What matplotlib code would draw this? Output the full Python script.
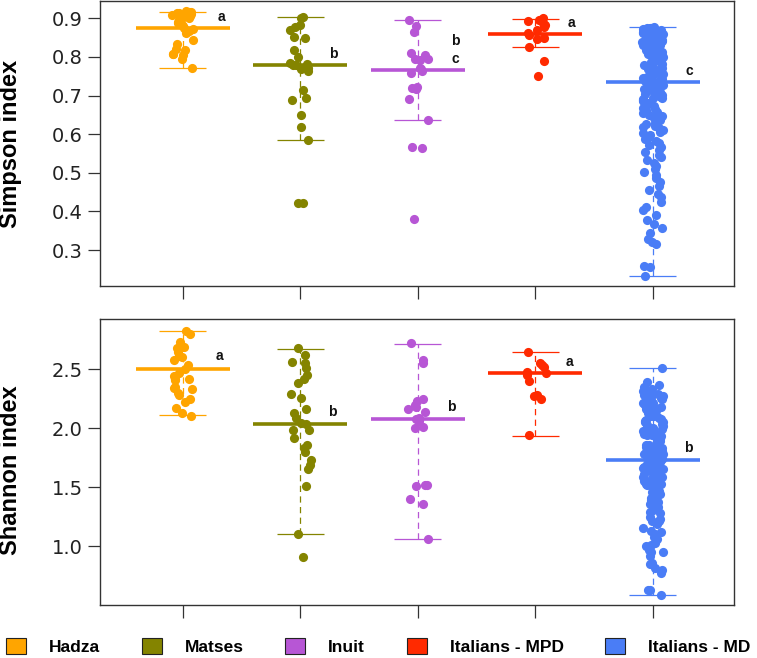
import numpy as np
import matplotlib.pyplot as plt
from matplotlib.patches import Patch

plt.rcParams['font.family'] = ['Liberation Sans', 'DejaVu Sans']

groups = ['Hadza', 'Matses', 'Inuit', 'Italians - MPD', 'Italians - MD']
colors = ['#FFA500', '#848400', '#B756D5', '#FF2A00', '#4A7DF6']

# Simpson index, per group
simpson_hadza = [0.918, 0.917, 0.916, 0.915, 0.913, 0.912, 0.908, 0.905, 0.902, 0.900,
                 0.895, 0.890, 0.887, 0.883, 0.880, 0.876, 0.872, 0.868, 0.861, 0.844,
                 0.833, 0.822, 0.818, 0.809, 0.808, 0.805, 0.796, 0.771]
simpson_matses = [0.903, 0.900, 0.883, 0.878, 0.870, 0.852, 0.850, 0.818, 0.801, 0.785,
                  0.782, 0.779, 0.778, 0.772, 0.770, 0.763, 0.714, 0.693, 0.688, 0.650,
                  0.619, 0.585, 0.423, 0.421]
simpson_inuit = [0.896, 0.880, 0.865, 0.810, 0.806, 0.796, 0.794, 0.793, 0.772, 0.768,
                 0.764, 0.759, 0.722, 0.720, 0.716, 0.690, 0.637, 0.566, 0.565, 0.380]
simpson_mpd = [0.900, 0.896, 0.893, 0.887, 0.883, 0.878, 0.870, 0.861, 0.857, 0.850,
               0.846, 0.826, 0.790, 0.751]
simpson_md = [0.878, 0.876, 0.875, 0.874, 0.872, 0.871, 0.870, 0.868, 0.867, 0.866,
              0.864, 0.863, 0.862, 0.860, 0.859, 0.858, 0.857, 0.855, 0.854, 0.853,
              0.851, 0.850, 0.849, 0.847, 0.845, 0.844, 0.843, 0.841, 0.840, 0.838,
              0.837, 0.836, 0.834, 0.832, 0.831, 0.829, 0.827, 0.826, 0.824, 0.822,
              0.820, 0.819, 0.817, 0.815, 0.813, 0.811, 0.809, 0.807, 0.805, 0.803,
              0.801, 0.799, 0.797, 0.795, 0.793, 0.790, 0.788, 0.786, 0.783, 0.781,
              0.778, 0.776, 0.773, 0.771, 0.768, 0.766, 0.763, 0.760, 0.758, 0.755,
              0.752, 0.750, 0.748, 0.746, 0.744, 0.742, 0.740, 0.738, 0.736, 0.735,
              0.733, 0.731, 0.729, 0.727, 0.725, 0.722, 0.720, 0.718, 0.716, 0.714,
              0.712, 0.709, 0.707, 0.705, 0.702, 0.700, 0.697, 0.695, 0.693, 0.690,
              0.688, 0.685, 0.682, 0.679, 0.676, 0.672, 0.669, 0.665, 0.662, 0.658,
              0.654, 0.650, 0.646, 0.642, 0.638, 0.634, 0.630, 0.626, 0.622, 0.618,
              0.615, 0.611, 0.606, 0.602, 0.597, 0.592, 0.587, 0.582, 0.578, 0.572,
              0.566, 0.560, 0.553, 0.545, 0.540, 0.533, 0.525, 0.518, 0.510, 0.502,
              0.495, 0.486, 0.476, 0.465, 0.455, 0.445, 0.438, 0.425, 0.412, 0.405,
              0.392, 0.377, 0.368, 0.358, 0.345, 0.330, 0.322, 0.316, 0.258, 0.255, 0.233]
simpson_med = [0.876, 0.778, 0.766, 0.859, 0.734]
simpson_lo = [0.771, 0.584, 0.636, 0.826, 0.233]
simpson_hi = [0.917, 0.903, 0.896, 0.898, 0.878]
simpson_letters = [['a'], ['b'], ['b', 'c'], ['a'], ['c']]

# Shannon index, per group
shannon_hadza = [2.828, 2.80, 2.734, 2.70, 2.69, 2.685, 2.65, 2.61, 2.605, 2.58,
                 2.54, 2.50, 2.47, 2.44, 2.42, 2.42, 2.41, 2.35, 2.34, 2.33,
                 2.30, 2.28, 2.25, 2.22, 2.17, 2.13, 2.10]
shannon_matses = [2.678, 2.62, 2.565, 2.55, 2.508, 2.45, 2.415, 2.38, 2.29, 2.26,
                  2.16, 2.126, 2.084, 2.042, 2.04, 1.985, 1.985, 1.914, 1.857, 1.83,
                  1.80, 1.73, 1.69, 1.65, 1.51, 1.10, 0.91]
shannon_inuit = [2.72, 2.58, 2.55, 2.25, 2.23, 2.20, 2.18, 2.16, 2.14, 2.09,
                 2.075, 2.06, 2.01, 2.00, 1.52, 1.52, 1.51, 1.40, 1.36, 1.06]
shannon_mpd = [2.644, 2.55, 2.54, 2.52, 2.48, 2.47, 2.465, 2.45, 2.40, 2.28,
               2.27, 2.25, 1.94]
shannon_md = [2.508, 2.39, 2.37, 2.35, 2.33, 2.32, 2.31, 2.30, 2.29, 2.285,
              2.28, 2.27, 2.26, 2.25, 2.245, 2.24, 2.23, 2.22, 2.215, 2.21,
              2.20, 2.19, 2.18, 2.17, 2.165, 2.16, 2.15, 2.14, 2.13, 2.12,
              2.11, 2.105, 2.10, 2.09, 2.08, 2.07, 2.06, 2.055, 2.05, 2.04,
              2.03, 2.02, 2.01, 2.00, 1.995, 1.99, 1.98, 1.97, 1.96, 1.95,
              1.945, 1.94, 1.93, 1.92, 1.91, 1.905, 1.90, 1.89, 1.88, 1.87,
              1.86, 1.855, 1.85, 1.84, 1.83, 1.82, 1.815, 1.81, 1.80, 1.79,
              1.785, 1.78, 1.77, 1.765, 1.76, 1.75, 1.745, 1.74, 1.735, 1.73,
              1.725, 1.72, 1.715, 1.71, 1.70, 1.695, 1.69, 1.68, 1.675, 1.67,
              1.66, 1.655, 1.65, 1.64, 1.635, 1.63, 1.62, 1.615, 1.61, 1.60,
              1.59, 1.585, 1.58, 1.57, 1.56, 1.555, 1.55, 1.54, 1.53, 1.525,
              1.52, 1.51, 1.50, 1.49, 1.48, 1.47, 1.46, 1.45, 1.44, 1.43,
              1.42, 1.41, 1.40, 1.39, 1.37, 1.36, 1.35, 1.33, 1.31, 1.29,
              1.28, 1.25, 1.23, 1.21, 1.21, 1.19, 1.15, 1.13, 1.12, 1.10,
              1.08, 1.08, 1.06, 1.03, 1.01, 1.00, 0.99, 0.97, 0.95, 0.95,
              0.92, 0.86, 0.85, 0.81, 0.80, 0.774, 0.63, 0.627, 0.584]
shannon_med = [2.50, 2.038, 2.08, 2.471, 1.727]
shannon_lo = [2.109, 1.10, 1.059, 1.936, 0.587]
shannon_hi = [2.828, 2.67, 2.717, 2.644, 2.508]
shannon_letters = [['a'], ['b'], ['b'], ['a'], ['b']]

simpson = [simpson_hadza, simpson_matses, simpson_inuit, simpson_mpd, simpson_md]
shannon = [shannon_hadza, shannon_matses, shannon_inuit, shannon_mpd, shannon_md]

# where the significance letters sit (x offset from group, y in data units)
simpson_letter_pos = [[(0.33, 0.904)], [(0.28, 0.807)], [(0.32, 0.842), (0.32, 0.796)],
                      [(0.31, 0.889)], [(0.31, 0.763)]]
shannon_letter_pos = [[(0.31, 2.613)], [(0.27, 2.135)], [(0.28, 2.183)],
                      [(0.29, 2.565)], [(0.30, 1.834)]]

rng = np.random.default_rng(7)


def panel(ax, data, med, lo, hi, letters, letter_pos, ylim, yticks, ylabels):
    for i, vals in enumerate(data):
        x = i + 1
        c = colors[i]
        ax.vlines(x, lo[i], hi[i], colors=c, lw=0.9, linestyles=(0, (5, 3.5)), zorder=1)
        ax.hlines([lo[i], hi[i]], x - 0.2, x + 0.2, colors=c, lw=0.9, zorder=1)
        ax.hlines(med[i], x - 0.4, x + 0.4, colors=c, lw=2.6, zorder=2)
        jit = rng.uniform(-0.09, 0.09, len(vals))
        ax.plot(x + jit, vals, 'o', color=c, ms=6.6, mew=0, zorder=3)
        for let, (dx, y) in zip(letters[i], letter_pos[i]):
            ax.text(x + dx, y, let, ha='center', va='center', fontsize=10,
                    fontweight='bold', color='#111111')
    ax.set_xlim(0.294, 5.69)
    ax.set_ylim(*ylim)
    ax.set_xticks(range(1, 6))
    ax.set_xticklabels([])
    ax.set_yticks(yticks)
    ax.set_yticklabels(ylabels, family='DejaVu Sans', fontsize=14, color='#222222')
    ax.tick_params(direction='out', length=9, width=0.9, color='#333333', pad=3.5)
    for s in ax.spines.values():
        s.set_color('#333333')
        s.set_linewidth(1.0)


fig = plt.figure(figsize=(7.57, 6.58), dpi=100)
ax1 = fig.add_axes([100 / 757, 1 - 286 / 658, 634 / 757, 285 / 658])
ax2 = fig.add_axes([100 / 757, 1 - 605 / 658, 634 / 757, 286 / 658])

panel(ax1, simpson, simpson_med, simpson_lo, simpson_hi, simpson_letters,
      simpson_letter_pos, (0.207, 0.945), [0.3, 0.4, 0.5, 0.6, 0.7, 0.8, 0.9],
      ['0.3', '0.4', '0.5', '0.6', '0.7', '0.8', '0.9'])
panel(ax2, shannon, shannon_med, shannon_lo, shannon_hi, shannon_letters,
      shannon_letter_pos, (0.50, 2.927), [1.0, 1.5, 2.0, 2.5],
      ['1.0', '1.5', '2.0', '2.5'])

fig.text(11 / 757, 1 - 143.5 / 658, 'Simpson index', rotation=90, ha='center',
         va='center', fontsize=17, fontweight='bold')
fig.text(11 / 757, 1 - 470 / 658, 'Shannon index', rotation=90, ha='center',
         va='center', fontsize=17, fontweight='bold')

handles = [Patch(facecolor=c, edgecolor='#222222', linewidth=0.8) for c in colors]
fig.legend(handles, groups, loc='lower left', bbox_to_anchor=(6 / 757, 3 / 658),
           ncol=5, frameon=False, borderpad=0, borderaxespad=0,
           handlelength=1.15, handleheight=0.98, handletextpad=1.32,
           columnspacing=2.4, prop=dict(weight='bold', size=12.5))

fig.savefig('out.png', dpi=100)
